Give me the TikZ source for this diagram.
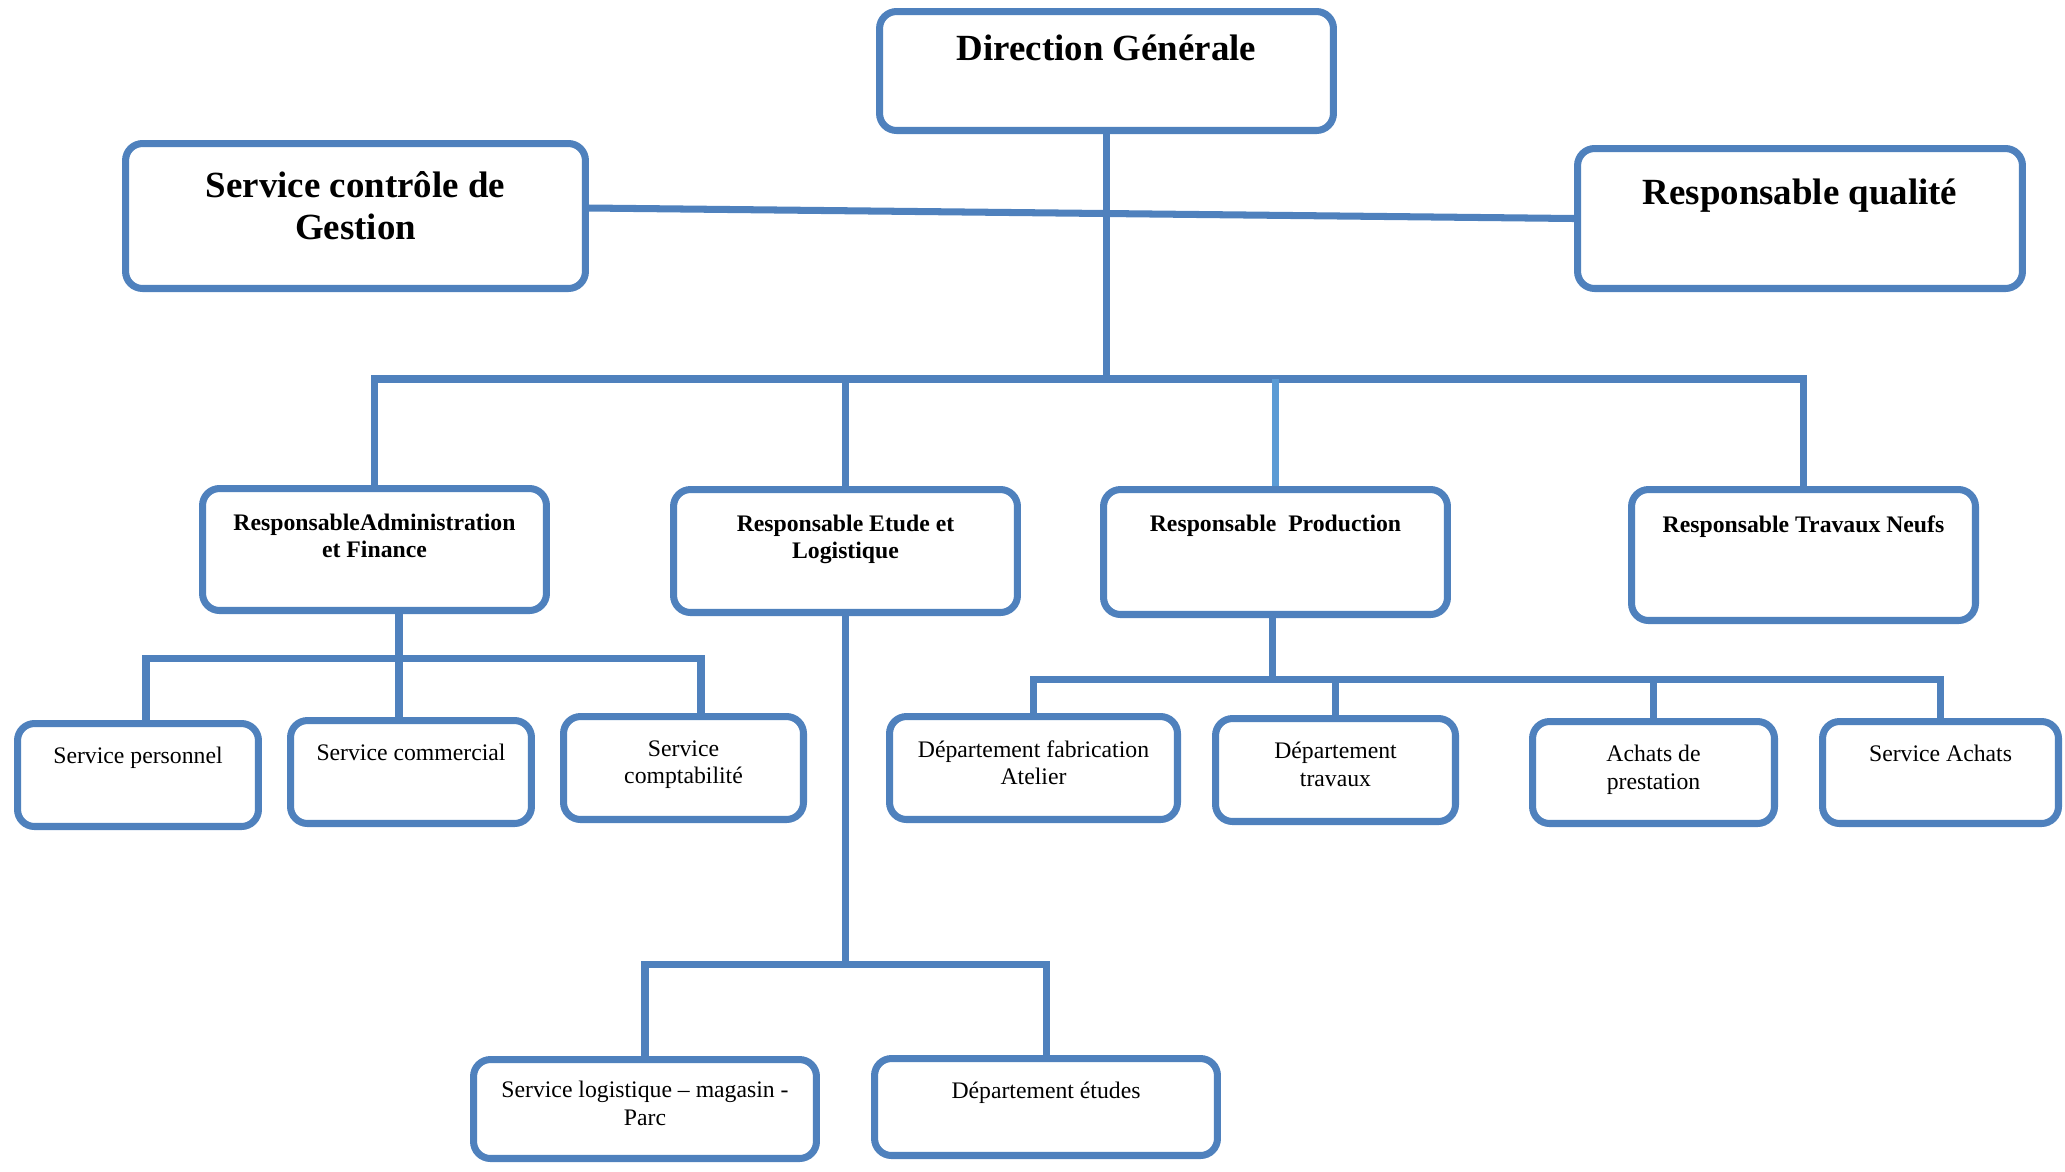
\documentclass[tikz,border=0pt]{standalone}
\usepackage{fontspec}
\setmainfont{Liberation Serif}
\usetikzlibrary{positioning}
\definecolor{chart-blue}{HTML}{4F81BD}
\definecolor{chart-sky}{HTML}{5B9BD5}

\begin{document}
\begin{tikzpicture}[x=0.02cm, y=-0.02cm,
        orgbox/.style={draw=chart-blue, line width=4pt, rounded corners=0.34cm, fill=white},
        link/.style={draw=chart-blue, line width=4pt},
        headtxt/.style={inner sep=0pt, align=center,
            font=\fontsize{21}{24}\selectfont\bfseries},
        chieftxt/.style={inner sep=0pt, align=center,
            font=\fontsize{13.5}{15.4}\selectfont\bfseries},
        unittxt/.style={inner sep=0pt, align=center,
            font=\fontsize{13.5}{15.7}\selectfont}]
      \useasboundingbox (0,0) rectangle (2065,1171);

      % direction and staff
      \node[orgbox, minimum width=9.08cm, minimum height=2.38cm] (dg) at (1106.5,71) {};
      \node[headtxt, below=0.54cm of dg.north] (dg-t) {Direction Générale};
      \node[orgbox, minimum width=9.2cm, minimum height=2.9cm] (scg) at (355.5,216) {};
      \node[headtxt, below=0.62cm of scg.north] (scg-t) {Service contrôle de\\Gestion};
      \node[orgbox, minimum width=8.9cm, minimum height=2.8cm] (rq) at (1800,218.5) {};
      \node[headtxt, below=0.68cm of rq.north] (rq-t) {Responsable qualité};

      % responsables
      \node[orgbox, minimum width=6.88cm, minimum height=2.44cm] (raf) at (374.5,549.5) {};
      \node[chieftxt, below=0.58cm of raf.north] (raf-t) {ResponsableAdministration\\et Finance};
      \node[orgbox, minimum width=6.88cm, minimum height=2.46cm] (rel) at (845.5,551) {};
      \node[chieftxt, below=0.58cm of rel.north] (rel-t) {Responsable Etude et\\Logistique};
      \node[orgbox, minimum width=6.88cm, minimum height=2.5cm] (rp) at (1275.5,552) {};
      \node[chieftxt, below=0.58cm of rp.north] (rp-t) {Responsable~ Production};
      \node[orgbox, minimum width=6.88cm, minimum height=2.62cm] (rtn) at (1803.5,555) {};
      \node[chieftxt, below=0.58cm of rtn.north] (rtn-t) {Responsable Travaux Neufs};

      % services
      \node[orgbox, minimum width=4.82cm, minimum height=2.06cm] (sp) at (138,775) {};
      \node[unittxt, below=0.54cm of sp.north] (sp-t) {Service personnel};
      \node[orgbox, minimum width=4.82cm, minimum height=2.06cm] (sc) at (411,772) {};
      \node[unittxt, below=0.54cm of sc.north] (sc-t) {Service commercial};
      \node[orgbox, minimum width=4.8cm, minimum height=2.06cm] (sco) at (683.5,768) {};
      \node[unittxt, below=0.54cm of sco.north] (sco-t) {Service\\comptabilité};
      \node[orgbox, minimum width=5.76cm, minimum height=2.06cm] (dfa) at (1033.5,768) {};
      \node[unittxt, below=0.54cm of dfa.north] (dfa-t) {Département fabrication\\Atelier};
      \node[orgbox, minimum width=4.8cm, minimum height=2.06cm] (dt) at (1335.5,770) {};
      \node[unittxt, below=0.54cm of dt.north] (dt-t) {Département\\travaux};
      \node[orgbox, minimum width=4.84cm, minimum height=2.04cm] (ap) at (1653.5,772.5) {};
      \node[unittxt, below=0.54cm of ap.north] (ap-t) {Achats de\\prestation};
      \node[orgbox, minimum width=4.72cm, minimum height=2.04cm] (sa) at (1940.5,772.5) {};
      \node[unittxt, below=0.54cm of sa.north] (sa-t) {Service Achats};
      \node[orgbox, minimum width=6.86cm, minimum height=1.98cm] (sl) at (645,1109) {};
      \node[unittxt, below=0.5cm of sl.north] (sl-t) {Service logistique -- magasin -\\Parc};
      \node[orgbox, minimum width=6.86cm, minimum height=1.94cm] (de) at (1046,1107) {};
      \node[unittxt, below=0.54cm of de.north] (de-t) {Département études};

      % junctions
      \coordinate (j2) at (1106.5,379);
      \coordinate (j3a) at (399,658);
      \coordinate (j3b) at (845.5,964);
      \coordinate (j3c) at (1272,679);

      \draw[link] ([yshift=0.16cm]scg.east) -- (rq.west);
      \draw[link] (dg.south) -- (j2);
      \draw[link] (raf.north) |- (j2) -| (rtn.north);
      \draw[link] (rel.north) -- (rel.north |- j2);
      \draw[link, draw=chart-sky] (rp.north) -- (rp.north |- j2);

      \draw[link] (raf.south -| j3a) -- (sc.north -| j3a);
      \draw[link] ([xshift=0.16cm]sp.north) |- (j3a) -| ([xshift=0.35cm]sco.north);

      \draw[link] (rel.south) -- (j3b);
      \draw[link] (sl.north) |- (j3b) -| (de.north);

      \draw[link] (rp.south -| j3c) -- (j3c);
      \draw[link] (dfa.north) |- (j3c) -| (sa.north);
      \draw[link] (dt.north) -- (dt.north |- j3c);
      \draw[link] (ap.north) -- (ap.north |- j3c);
\end{tikzpicture}
\end{document}
